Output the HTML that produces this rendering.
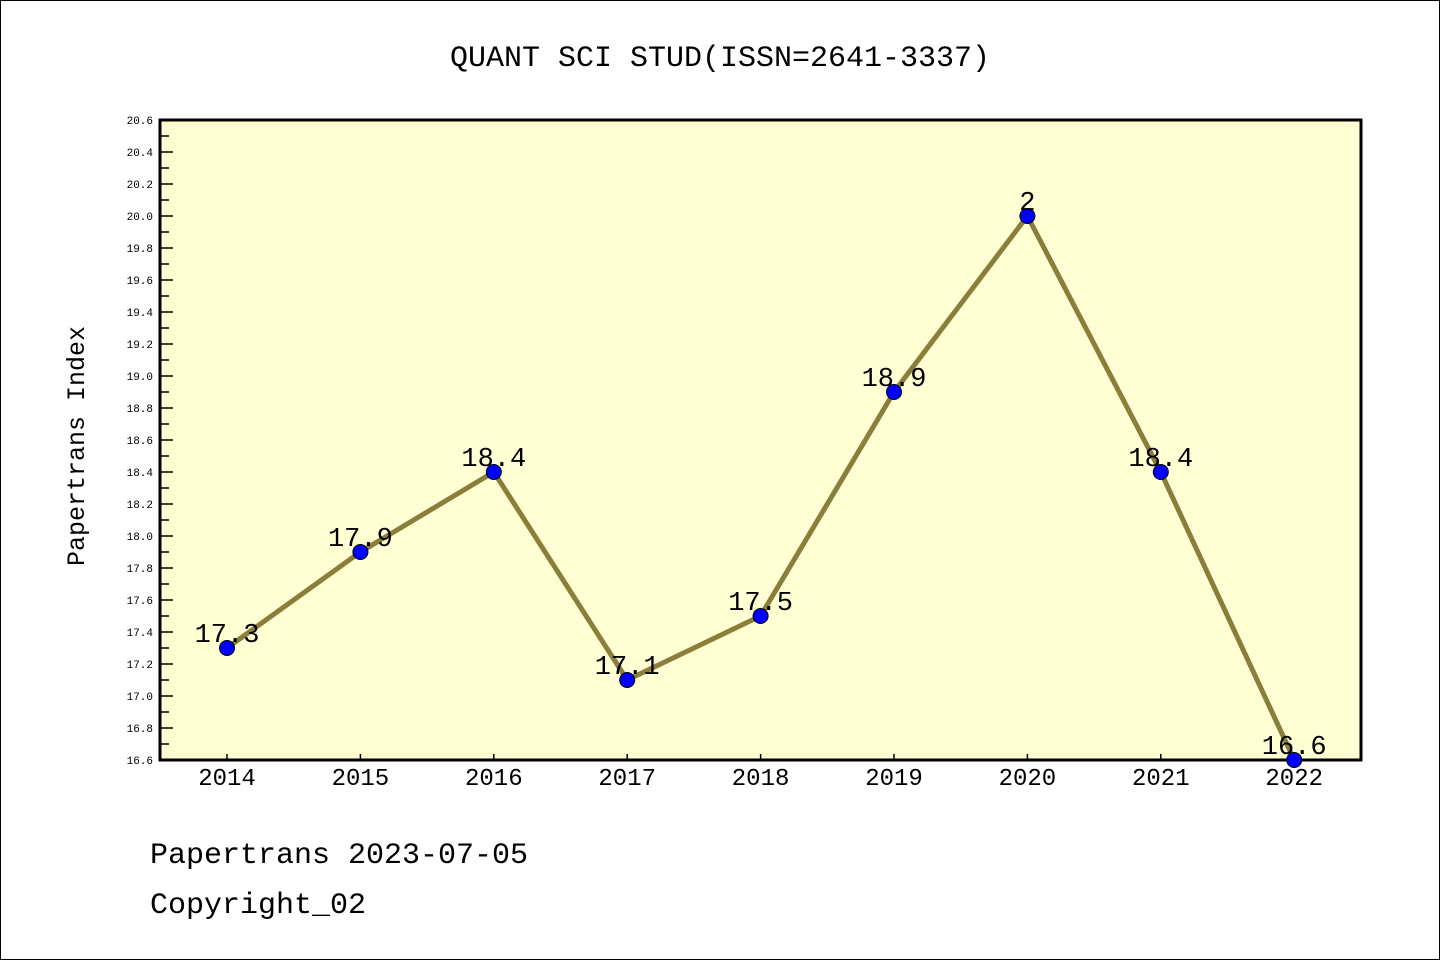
<!DOCTYPE html>
<html><head><meta charset="utf-8"><style>
body{margin:0;background:#fff}
svg{display:block;font-family:"Liberation Mono","DejaVu Sans Mono",monospace}
</style></head><body>
<svg id="c" width="1440" height="960">
<rect x="0.5" y="0.5" width="1439" height="959" fill="#fff" stroke="#000"/>
<text x="720" y="66" font-size="30" text-anchor="middle">QUANT SCI STUD(ISSN=2641-3337)</text>
<rect x="160" y="120" width="1201" height="640" fill="#ffffd3" stroke="#000" stroke-width="3"/>
<text transform="translate(84,446) rotate(-90)" font-size="25" text-anchor="middle">Papertrans Index</text>
<text x="150" y="863" font-size="30">Papertrans 2023-07-05</text>
<text x="150" y="913" font-size="30">Copyright_02</text>
<g id="g"></g>
</svg>
<script>
const years=["2014","2015","2016","2017","2018","2019","2020","2021","2022"];
const values=[17.3,17.9,18.4,17.1,17.5,18.9,20.0,18.4,16.6];
const labels=["17.3","17.9","18.4","17.1","17.5","18.9","2","18.4","16.6"];
const yMin=16.6,yMax=20.6;
const X=i=>227+i*133.4;
const Y=v=>760-(v-yMin)/(yMax-yMin)*640;
const g=document.getElementById('g');const NS='http://www.w3.org/2000/svg';
function mk(t,a){const e=document.createElementNS(NS,t);for(const k in a)e.setAttribute(k,a[k]);g.appendChild(e);return e;}
for(let k=0;k<=40;k++){const v=yMin+k*0.1;const y=Y(v);const major=k%2==0;
 const l=mk('line',{x1:161,x2:161+(major?12:8),y1:y,y2:y,stroke:'#000','stroke-width':1.5});
 
 
 if(major){const t=mk('text',{x:153,y:y+4,'font-size':11,'text-anchor':'end'});t.textContent=v.toFixed(1);
 
 }}
years.forEach((yr,i)=>{const x=X(i);
 const l=mk('line',{x1:x,x2:x,y1:759,y2:754,stroke:'#000','stroke-width':1.5});
 
 
 const t=mk('text',{x:x,y:785,'font-size':24,'text-anchor':'middle'});t.textContent=yr;
 
 });
const p=mk('polyline',{points:values.map((v,i)=>X(i)+','+Y(v)).join(' '),fill:'none',stroke:'#8b7d3a','stroke-width':5});


values.forEach((v,i)=>{
 const c=mk('circle',{cx:X(i),cy:Y(v),r:7.5,fill:'#0000ff',stroke:'#000','stroke-width':1});
 
 
 const t=mk('text',{x:X(i),y:Y(v)-6,'font-size':27,'text-anchor':'middle'});t.textContent=labels[i];
 
 });
</script>
</body></html>
